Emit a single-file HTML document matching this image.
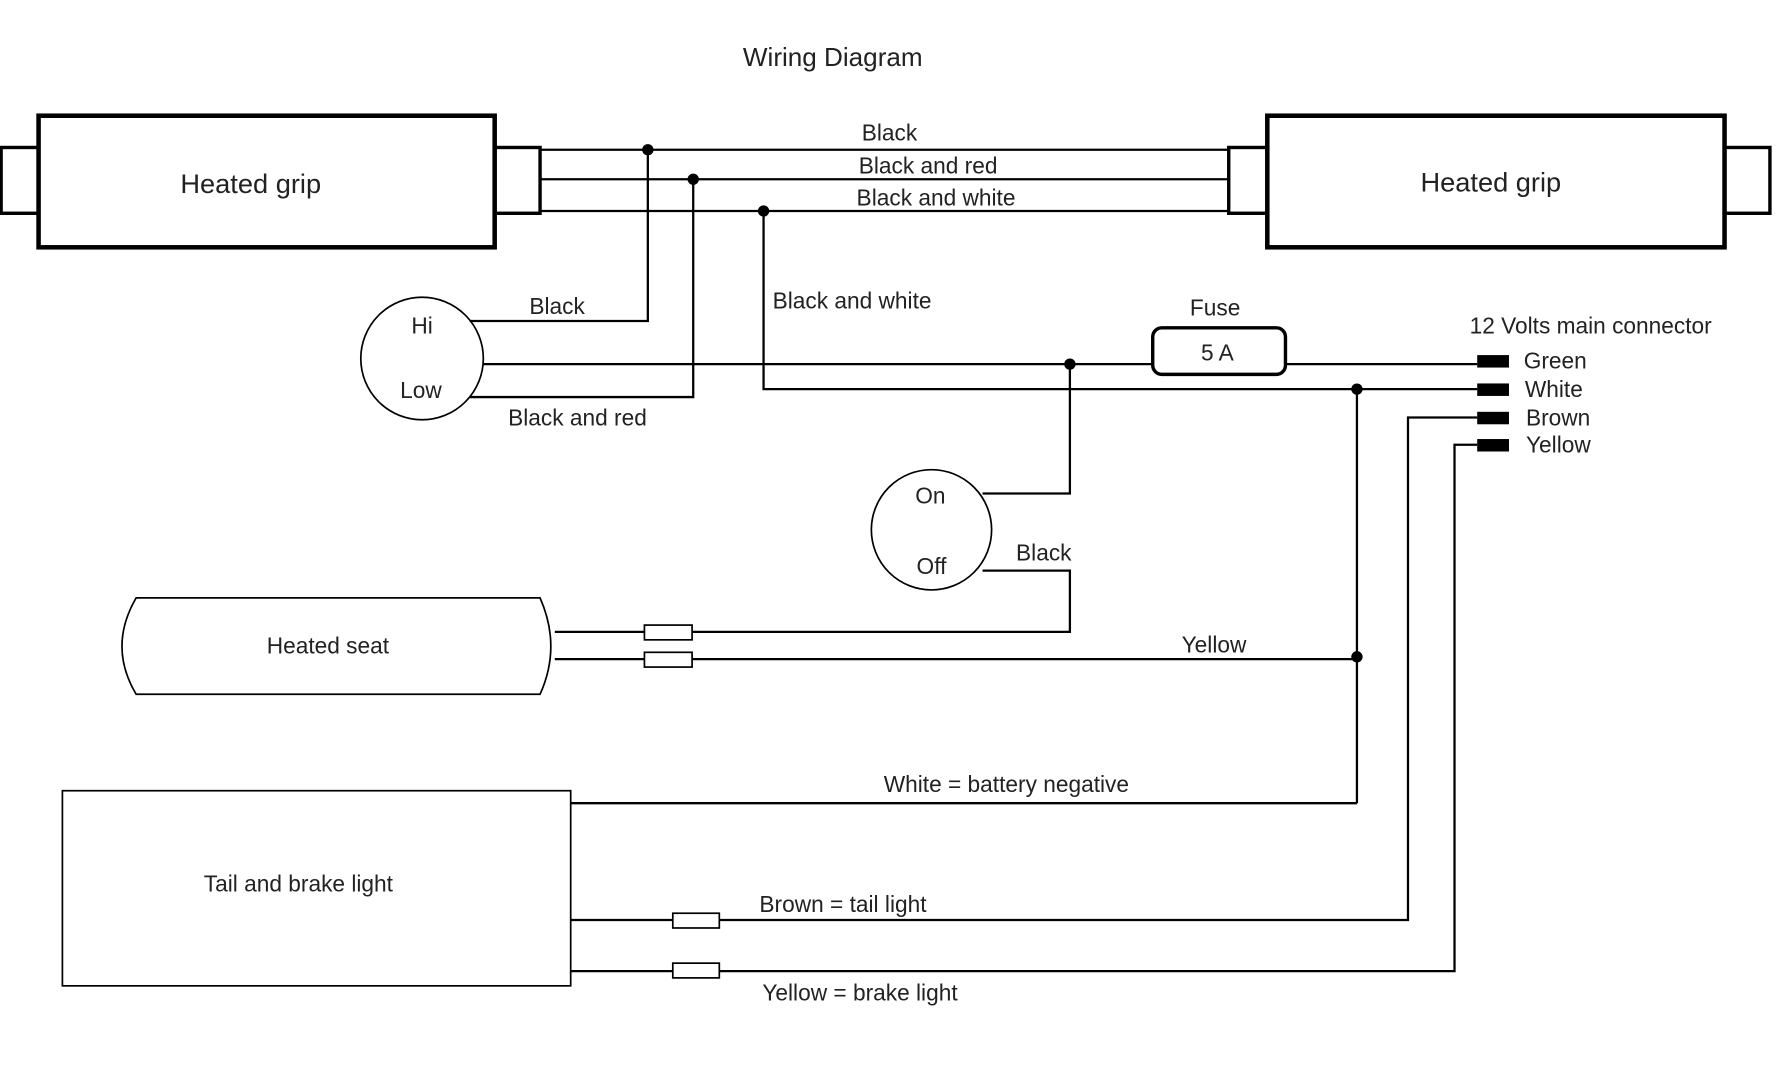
<!DOCTYPE html>
<html><head><meta charset="utf-8"><style>
html,body{margin:0;padding:0;background:#fff;width:1779px;height:1080px;overflow:hidden}
svg{display:block}
text{font-family:"Liberation Sans",Arial,sans-serif;fill:#222}
</style></head><body>
<svg width="1779" height="1080" viewBox="0 0 1568 952" preserveAspectRatio="none" xmlns="http://www.w3.org/2000/svg">
<rect width="1568" height="952" fill="#fff"/>
<g fill="none" stroke="#000">
<!-- grips -->
<rect x="34" y="102" width="402" height="116" stroke-width="4"/>
<rect x="1" y="130" width="33" height="58" stroke-width="3"/>
<rect x="436" y="130" width="40" height="58" stroke-width="3"/>
<rect x="1117" y="102" width="403" height="116" stroke-width="4"/>
<rect x="1083" y="130" width="34" height="58" stroke-width="3"/>
<rect x="1520" y="130" width="40" height="58" stroke-width="3"/>
<g stroke-width="2">
<line x1="476" y1="132" x2="1083" y2="132"/>
<line x1="476" y1="158" x2="1083" y2="158"/>
<line x1="476" y1="186" x2="1083" y2="186"/>
<circle cx="372" cy="316" r="54" stroke-width="1.5"/>
<polyline points="571,132 571,283 414,283"/>
<polyline points="611,158 611,350 414,350"/>
<line x1="426" y1="321" x2="1016" y2="321"/>
<polyline points="673,186 673,343 1302,343"/>
<line x1="1133" y1="321" x2="1302" y2="321"/>
<polyline points="1302,368 1241,368 1241,811 634,811"/>
<polyline points="1302,392 1282,392 1282,856 634,856"/>
<line x1="1196" y1="343" x2="1196" y2="708"/>
<line x1="503" y1="708" x2="1196" y2="708"/>
<circle cx="821" cy="467" r="53" stroke-width="1.5"/>
<polyline points="943,321 943,435 866,435"/>
<polyline points="866,503 943,503 943,557 610,557"/>
<line x1="610" y1="581" x2="1196" y2="581"/>
<line x1="489" y1="557" x2="568" y2="557"/>
<line x1="489" y1="581" x2="568" y2="581"/>
<line x1="503" y1="811" x2="593" y2="811"/>
<line x1="503" y1="856" x2="593" y2="856"/>
</g>
<rect x="1016" y="289" width="117" height="41" rx="8" stroke-width="3"/>
<g stroke-width="1.5">
<rect x="568" y="551" width="42" height="13"/>
<rect x="568" y="575" width="42" height="13"/>
<rect x="593" y="805" width="41" height="13"/>
<rect x="593" y="849" width="41" height="13"/>
<path d="M120,527 L476,527 Q495,570 476,612 L120,612 Q95,570 120,527 Z"/>
<rect x="55" y="697" width="448" height="172"/>
</g>
</g>
<g fill="#000">
<circle cx="571" cy="132" r="5"/><circle cx="611" cy="158" r="5"/><circle cx="673" cy="186" r="5"/>
<circle cx="943" cy="321" r="5"/><circle cx="1196" cy="343" r="5"/><circle cx="1196" cy="579" r="5"/>
<rect x="1302" y="313" width="28" height="11"/>
<rect x="1302" y="338" width="28" height="11"/>
<rect x="1302" y="363" width="28" height="11"/>
<rect x="1302" y="387" width="28" height="11"/>
</g>
<g font-size="20" text-anchor="middle">
<text x="734" y="58" font-size="23">Wiring Diagram</text>
<text x="221" y="170" font-size="24">Heated grip</text>
<text x="1314" y="169" font-size="24">Heated grip</text>
<text x="784" y="124">Black</text>
<text x="818" y="153">Black and red</text>
<text x="825" y="181">Black and white</text>
<text x="372" y="294">Hi</text>
<text x="371" y="351">Low</text>
<text x="491" y="277">Black</text>
<text x="509" y="375">Black and red</text>
<text x="751" y="272">Black and white</text>
<text x="1071" y="278">Fuse</text>
<text x="1073" y="318">5 A</text>
<text x="1402" y="294">12 Volts main connector</text>
<text x="820" y="444">On</text>
<text x="821" y="506">Off</text>
<text x="920" y="494">Black</text>
<text x="289" y="576">Heated seat</text>
<text x="1070" y="575">Yellow</text>
<text x="263" y="786">Tail and brake light</text>
<text x="887" y="698">White = battery negative</text>
<text x="743" y="804">Brown = tail light</text>
<text x="758" y="882">Yellow = brake light</text>
</g>
<g font-size="20">
<text x="1343" y="325">Green</text>
<text x="1344" y="350">White</text>
<text x="1345" y="375">Brown</text>
<text x="1345" y="399">Yellow</text>
</g>
</svg>
</body></html>
